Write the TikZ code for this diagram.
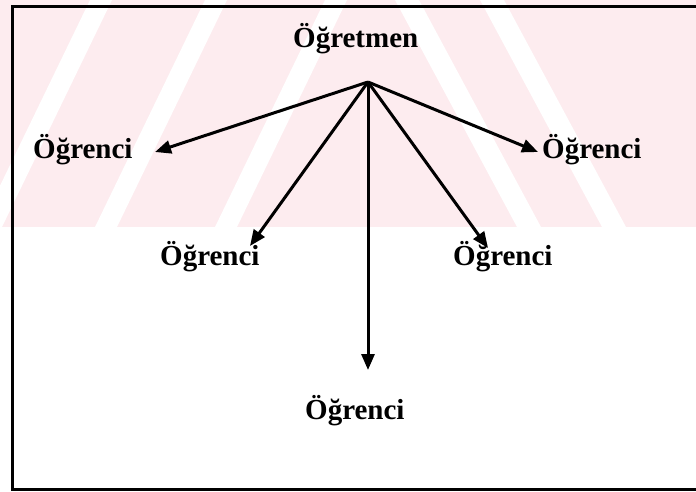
\documentclass[tikz,border=0pt]{standalone}
\usepackage{fontspec}
\setmainfont{Liberation Serif}
\usetikzlibrary{positioning, calc, arrows.meta}

\definecolor{wmpink}{RGB}{253,236,239}

\begin{document}
\begin{tikzpicture}[x=1pt, y=-1pt,
  every node/.style={font=\fontsize{29}{34}\selectfont\bfseries, inner sep=0pt, anchor=base west},
  arr/.style={line width=3pt, -{Triangle[length=16pt, width=13pt]}},
  frame/.style={line width=3pt}]

\useasboundingbox (0,0) rectangle (696,491);

% faint watermark band behind the top half
\fill[wmpink] (0,0) rectangle (696,227);
\foreach \a in {-20, 95, 215} {
  \fill[white] (\a,227) -- ++(22,0) -- ++(110,-227) -- ++(-22,0) -- cycle;
}
\foreach \a in {395, 480} {
  \fill[white] (\a,0) -- ++(24,0) -- ++(122,227) -- ++(-24,0) -- cycle;
}

% frame (open on the right)
\draw[frame] (696,6) -- (12,6) -- (12,489) -- (696,489);

\node (ogretmen) at (293,47) {Öğretmen};

\node (ogrL)  at (33,158)  {Öğrenci};
\node (ogrR)  at (542,158) {Öğrenci};
\node (ogrML) at (160,265) {Öğrenci};
\node (ogrMR) at (453,265) {Öğrenci};
\node (ogrB)  at (305,419) {Öğrenci};

\coordinate (hub) at (368,82);

\coordinate (tipL)  at (155,152);
\coordinate (tipR)  at (538,152);
\coordinate (tipML) at (250,246);
\coordinate (tipMR) at (488,248);
\coordinate (tipB)  at (368,370);

\draw[arr] (hub) -- (tipL);
\draw[arr] (hub) -- (tipR);
\draw[arr] (hub) -- (tipML);
\draw[arr] (hub) -- (tipMR);
\draw[arr] (hub) -- (tipB);

\end{tikzpicture}
\end{document}
